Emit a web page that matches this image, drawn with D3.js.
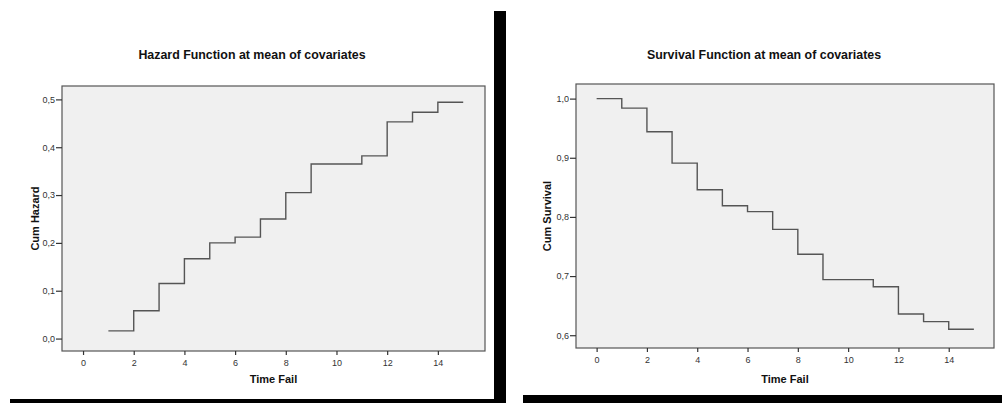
<!DOCTYPE html>
<html>
<head>
<meta charset="utf-8">
<script src="https://cdn.jsdelivr.net/npm/d3@7"></script>
<style>
body { margin: 0; background: #fff; }
svg { display: block; }
text { font-family: "Liberation Sans", Arial, sans-serif; }
</style>
</head>
<body>
<script>
// step times and values
var times = [1, 2, 3, 4, 5, 6, 7, 8, 9, 11, 12, 13, 14, 15];
var cumHazard = [0.016, 0.058, 0.115, 0.167, 0.200, 0.212, 0.250, 0.305, 0.365, 0.382, 0.453, 0.473, 0.494, 0.494];
var survTimes = [0, 1, 2, 3, 4, 5, 6, 7, 8, 9, 11, 12, 13, 14, 15];
var cumSurvival = [1.000, 0.984, 0.944, 0.891, 0.846, 0.819, 0.809, 0.779, 0.737, 0.694, 0.682, 0.636, 0.623, 0.610, 0.610];
var xTicks = [0, 2, 4, 6, 8, 10, 12, 14];
var hazardTicks = [0, 0.1, 0.2, 0.3, 0.4, 0.5];
var survivalTicks = [0.6, 0.7, 0.8, 0.9, 1.0];

var W = 1002, H = 403;
var svg = d3.select("body").append("svg").attr("width", W).attr("height", H);

var fmt = function (d) { return d3.format(".1f")(d).replace(".", ","); };

function drawPanel(cfg) {
    var x = d3.scaleLinear().domain(cfg.xDomain).range([cfg.left, cfg.right]);
    var y = d3.scaleLinear().domain(cfg.yDomain).range([cfg.bottom, cfg.top]);

    svg.append("rect")
        .attr("x", cfg.left).attr("y", cfg.top)
        .attr("width", cfg.right - cfg.left).attr("height", cfg.bottom - cfg.top)
        .attr("fill", "#f0f0f0").attr("stroke", "#555").attr("stroke-width", 1.2);

    var xAxis = svg.append("g")
        .attr("transform", "translate(0," + cfg.bottom + ")")
        .call(d3.axisBottom(x).tickValues(xTicks).tickSize(4).tickPadding(5).tickFormat(d3.format("d")));
    var yAxis = svg.append("g")
        .attr("transform", "translate(" + cfg.left + ",0)")
        .call(d3.axisLeft(y).tickValues(cfg.yTicks).tickSize(6).tickPadding(1).tickFormat(fmt));
    [xAxis, yAxis].forEach(function (g) {
        g.select(".domain").remove();
        g.selectAll(".tick line").attr("stroke", "#333").attr("stroke-width", 1.2);
        g.selectAll(".tick text").attr("fill", "#333").attr("font-size", "9px")
            .attr("font-family", "'Liberation Sans', Arial, sans-serif");
    });

    var line = d3.line()
        .x(function (d) { return x(d[0]); })
        .y(function (d) { return y(d[1]); })
        .curve(d3.curveStepAfter);
    svg.append("path")
        .datum(cfg.xs.map(function (t, i) { return [t, cfg.ys[i]]; }))
        .attr("d", line)
        .attr("fill", "none").attr("stroke", "#555").attr("stroke-width", 1.4);

    svg.append("text")
        .attr("x", cfg.titleX).attr("y", cfg.titleY)
        .attr("text-anchor", "middle").attr("font-size", "12.4px").attr("font-weight", "bold")
        .attr("fill", "#111").text(cfg.title);
    svg.append("text")
        .attr("x", (cfg.left + cfg.right) / 2 + 0).attr("y", 383)
        .attr("text-anchor", "middle").attr("font-size", "11px").attr("font-weight", "bold")
        .attr("fill", "#111").text("Time Fail");
    svg.append("text")
        .attr("transform", "translate(" + cfg.yLabelX + "," + (cfg.top + cfg.bottom) / 2 + ") rotate(-90)")
        .attr("text-anchor", "middle").attr("font-size", "11px").attr("font-weight", "bold")
        .attr("fill", "#111").text(cfg.yLabel);
}

drawPanel({
    left: 62, right: 485, top: 86, bottom: 351,
    xDomain: [-0.83, 15.86], yDomain: [-0.026, 0.528],
    yTicks: hazardTicks, xs: times, ys: cumHazard,
    title: "Hazard Function at mean of covariates", titleX: 252, titleY: 59,
    yLabel: "Cum Hazard", yLabelX: 39
});

drawPanel({
    left: 576, right: 994, top: 84, bottom: 348,
    xDomain: [-0.82, 15.8], yDomain: [0.5784, 1.0247],
    yTicks: survivalTicks, xs: survTimes, ys: cumSurvival,
    title: "Survival Function at mean of covariates", titleX: 764, titleY: 59,
    yLabel: "Cum Survival", yLabelX: 551
});

// black frame edges from the screenshot
svg.append("rect").attr("x", 494).attr("y", 11).attr("width", 12).attr("height", H - 11).attr("fill", "#000");
svg.append("rect").attr("x", 10).attr("y", 399).attr("width", 490).attr("height", 4).attr("fill", "#000");
svg.append("rect").attr("x", 523).attr("y", 395).attr("width", W - 523).attr("height", 8).attr("fill", "#000");
</script>
</body>
</html>
